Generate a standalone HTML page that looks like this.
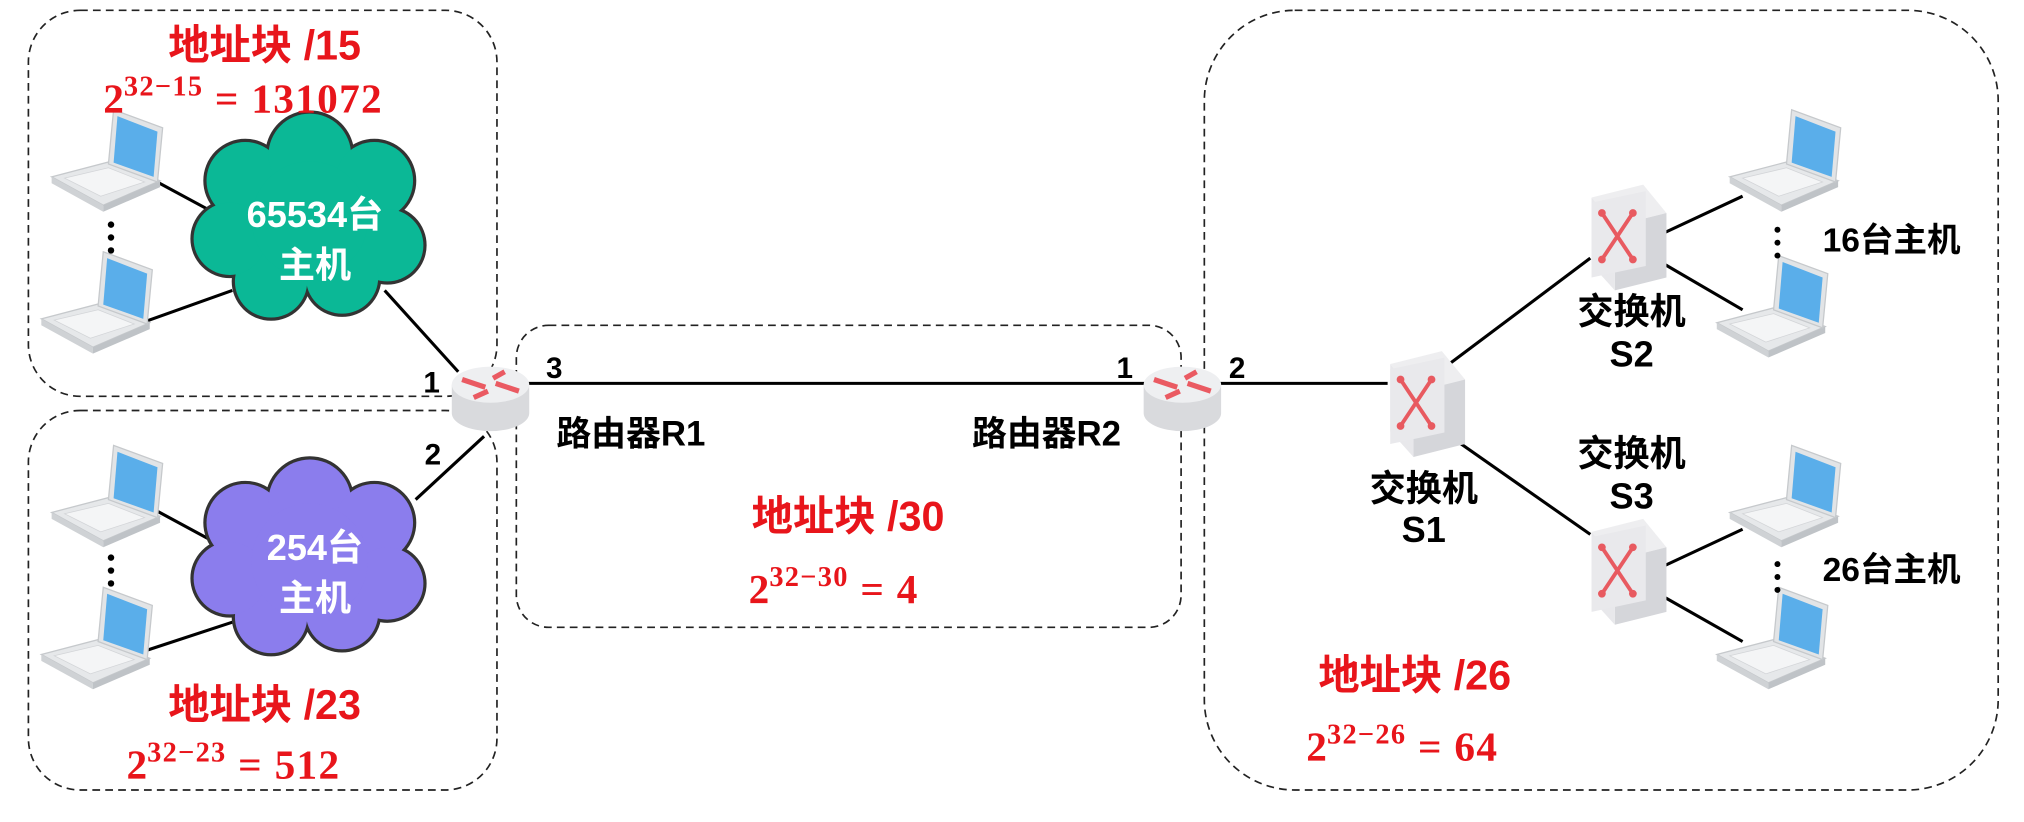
<!DOCTYPE html>
<html><head><meta charset="utf-8"><style>
html,body{margin:0;padding:0;background:#fff;}
svg{display:block;}
.t{font-family:"Liberation Sans","Noto Sans CJK SC",sans-serif;font-weight:bold;}
.m{font-family:"Liberation Serif","Noto Serif CJK SC",serif;font-weight:bold;fill:#e8151b;}
.r{fill:#e8151b;}
</style></head><body>
<svg width="2024" height="822" viewBox="0 0 1568 636.8" preserveAspectRatio="none" xmlns="http://www.w3.org/2000/svg">
<defs>
<g id="lap">
 <polygon points="0,52 46,40 84,55 40,74" fill="#e6e8ea" stroke="#c6c9cc" stroke-width="1"/>
 <polygon points="0,52 40,74 40,79 0,57" fill="#cfd2d5"/>
 <polygon points="40,74 84,55 84,60 40,79" fill="#bfc3c7"/>
 <polygon points="44,42 48,0 86,14 82,56" fill="#e2e4e6" stroke="#c6c9cc"/>
 <polygon points="48,41 51,5 82,17 79,52" fill="#5aaeea"/>
 <polygon points="10,53 44,45 72,56 38,67" fill="#f4f5f6" stroke="#d3d5d8" stroke-width="0.6"/>
</g>
<g id="sw">
 <polygon points="0,10 40,0 58,22 18,32" fill="#eeeef0"/>
 <polygon points="18,32 58,22 58,72 18,82" fill="#d5d6da"/>
 <polygon points="0,10 18,32 18,82 0,62" fill="#e8e8eb"/>
 <rect x="0" y="10" width="42" height="58" fill="#e9e9ec" transform="skewY(-12) translate(0,4)"/>
 <g stroke="#e85a60" stroke-width="3" fill="none">
  <line x1="8" y1="22" x2="32" y2="58"/><line x1="32" y1="22" x2="8" y2="58"/>
 </g>
 <g fill="#e85a60"><circle cx="8" cy="22" r="3"/><circle cx="32" cy="22" r="3"/><circle cx="8" cy="58" r="3"/><circle cx="32" cy="58" r="3"/></g>
</g>
<g id="rt">
 <path d="M-30,0 L-30,22 A30,14 0 0 0 30,22 L30,0 Z" fill="#d9dadd"/>
 <ellipse cx="0" cy="0" rx="30" ry="14" fill="#eeeff1"/>
 <g stroke="#ea5a62" stroke-width="4" fill="none">
  <line x1="-22" y1="-4" x2="-4" y2="2"/><line x1="-2" y1="5" x2="-13" y2="10"/>
  <line x1="22" y1="5" x2="4" y2="-1"/><line x1="2" y1="-5" x2="11" y2="-10"/>
 </g>
</g>
</defs>

<g fill="none" stroke="#222" stroke-width="1.3" stroke-dasharray="6,4">
 <rect x="22" y="8" width="363" height="299" rx="40"/>
 <rect x="22" y="318" width="363" height="294" rx="40"/>
 <rect x="400" y="252" width="515" height="234" rx="25"/>
 <rect x="933" y="8" width="615" height="604" rx="70"/>
</g>

<g stroke="#000" stroke-width="2.4">
 <line x1="120" y1="140" x2="170" y2="167"/>
 <line x1="110" y1="250" x2="180" y2="225"/>
 <line x1="298" y1="225" x2="355" y2="288"/>
 <line x1="375" y1="338" x2="322" y2="387"/>
 <line x1="120" y1="395" x2="170" y2="422"/>
 <line x1="110" y1="505" x2="180" y2="482"/>
 <line x1="407" y1="297" x2="889" y2="297"/>
 <line x1="943" y1="297" x2="1075" y2="297"/>
 <line x1="1120" y1="284" x2="1232" y2="200"/>
 <line x1="1122" y1="337" x2="1232" y2="414"/>
 <line x1="1290" y1="180" x2="1350" y2="152"/>
 <line x1="1290" y1="205" x2="1350" y2="240"/>
 <line x1="1290" y1="438" x2="1350" y2="410"/>
 <line x1="1290" y1="463" x2="1350" y2="497"/>
</g>

<use href="#lap" x="40" y="85"/>
<use href="#lap" x="32" y="195"/>
<use href="#lap" x="40" y="345"/>
<use href="#lap" x="32" y="455"/>
<use href="#lap" x="1340" y="85"/>
<use href="#lap" x="1330" y="198"/>
<use href="#lap" x="1340" y="345"/>
<use href="#lap" x="1330" y="455"/>

<g fill="#000">
 <circle cx="86" cy="174" r="2.5"/><circle cx="86" cy="184" r="2.5"/><circle cx="86" cy="194" r="2.5"/>
 <circle cx="86" cy="432" r="2.5"/><circle cx="86" cy="442" r="2.5"/><circle cx="86" cy="452" r="2.5"/>
 <circle cx="1377" cy="178" r="2.3"/><circle cx="1377" cy="188" r="2.3"/><circle cx="1377" cy="198" r="2.3"/>
 <circle cx="1377" cy="437" r="2.3"/><circle cx="1377" cy="447" r="2.3"/><circle cx="1377" cy="457" r="2.3"/>
</g>

<g stroke="#333" stroke-width="5" fill="#333">
 <circle cx="190" cy="140" r="30"/><circle cx="240" cy="120" r="32"/><circle cx="290" cy="140" r="30"/>
 <circle cx="300" cy="190" r="28"/><circle cx="265" cy="215" r="28"/><circle cx="210" cy="218" r="28"/>
 <circle cx="178" cy="185" r="28"/><circle cx="240" cy="170" r="45"/>
 <circle cx="190" cy="405" r="30"/><circle cx="240" cy="388" r="32"/><circle cx="290" cy="405" r="30"/>
 <circle cx="300" cy="452" r="28"/><circle cx="265" cy="475" r="28"/><circle cx="210" cy="478" r="28"/>
 <circle cx="178" cy="448" r="28"/><circle cx="240" cy="435" r="45"/>
</g>
<g fill="#0bb896">
 <circle cx="190" cy="140" r="30"/><circle cx="240" cy="120" r="32"/><circle cx="290" cy="140" r="30"/>
 <circle cx="300" cy="190" r="28"/><circle cx="265" cy="215" r="28"/><circle cx="210" cy="218" r="28"/>
 <circle cx="178" cy="185" r="28"/><circle cx="240" cy="170" r="45"/>
</g>
<g fill="#8b7ded">
 <circle cx="190" cy="405" r="30"/><circle cx="240" cy="388" r="32"/><circle cx="290" cy="405" r="30"/>
 <circle cx="300" cy="452" r="28"/><circle cx="265" cy="475" r="28"/><circle cx="210" cy="478" r="28"/>
 <circle cx="178" cy="448" r="28"/><circle cx="240" cy="435" r="45"/>
</g>
<g class="t" fill="#fff" font-size="28" text-anchor="middle">
 <text x="244" y="176">65534台</text><text x="244" y="215">主机</text>
 <text x="244" y="434">254台</text><text x="244" y="473">主机</text>
</g>

<use href="#rt" x="380" y="298"/>
<use href="#rt" x="916" y="298"/>

<use href="#sw" x="1077" y="272"/>
<use href="#sw" x="1233" y="143"/>
<use href="#sw" x="1233" y="402"/>

<g class="t" fill="#000" font-size="23">
 <text x="328" y="304">1</text>
 <text x="423" y="293">3</text>
 <text x="329" y="360">2</text>
 <text x="865" y="293">1</text>
 <text x="952" y="293">2</text>
</g>
<g class="t" fill="#000" font-size="27">
 <text x="431" y="345">路由器R1</text>
 <text x="753" y="345">路由器R2</text>
</g>
<g class="t" fill="#000" font-size="28" text-anchor="middle">
 <text x="1103" y="388">交换机</text><text x="1103" y="420">S1</text>
 <text x="1264" y="251">交换机</text><text x="1264" y="284">S2</text>
 <text x="1264" y="361">交换机</text><text x="1264" y="394">S3</text>
</g>
<g class="t" fill="#000" font-size="26">
 <text x="1412" y="195">16台主机</text>
 <text x="1412" y="450">26台主机</text>
</g>

<g class="t r" font-size="32" text-anchor="middle">
 <text x="205" y="46">地址块 /15</text>
 <text x="205" y="557">地址块 /23</text>
 <text x="657" y="411">地址块 /30</text>
 <text x="1096" y="534">地址块 /26</text>
</g>
<g class="m" font-size="32">
 <text x="80" y="87">2<tspan font-size="22" dy="-13" letter-spacing="1">32−15</tspan><tspan dy="13" letter-spacing="1"> = 131072</tspan></text>
 <text x="98" y="603">2<tspan font-size="22" dy="-13" letter-spacing="1">32−23</tspan><tspan dy="13" letter-spacing="1"> = 512</tspan></text>
 <text x="580" y="467">2<tspan font-size="22" dy="-13" letter-spacing="1">32−30</tspan><tspan dy="13" letter-spacing="1"> = 4</tspan></text>
 <text x="1012" y="589">2<tspan font-size="22" dy="-13" letter-spacing="1">32−26</tspan><tspan dy="13" letter-spacing="1"> = 64</tspan></text>
</g>
</svg>
</body></html>
